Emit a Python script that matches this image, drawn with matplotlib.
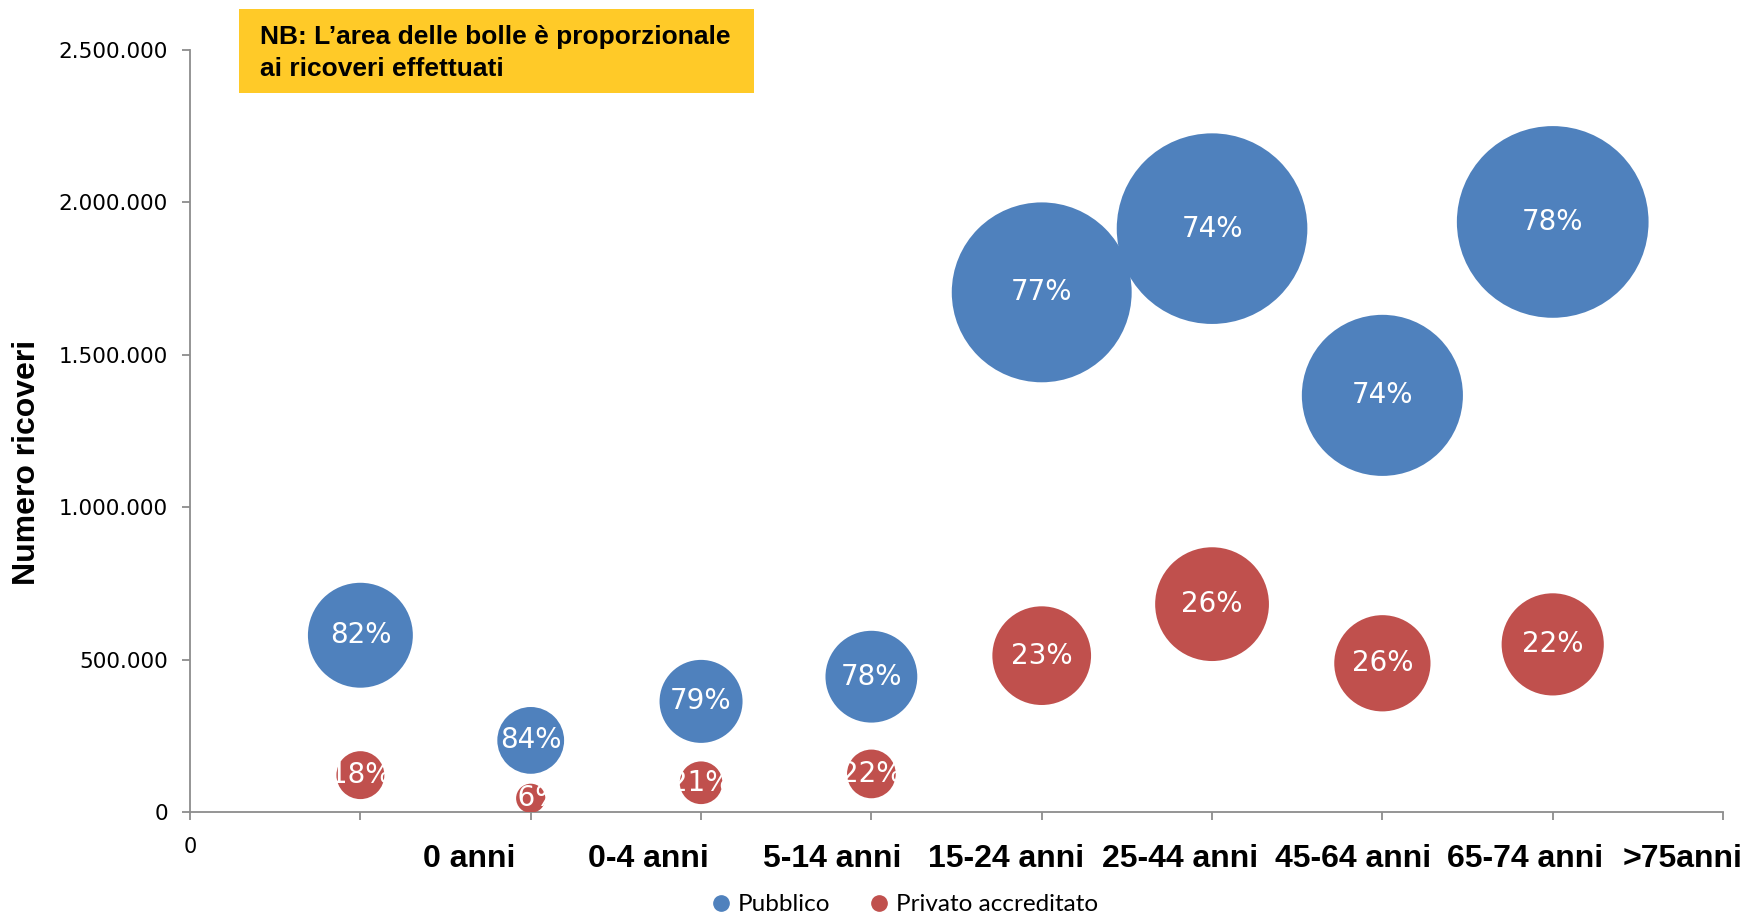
import numpy as np
import matplotlib
matplotlib.use('Agg')
import matplotlib.pyplot as plt
from matplotlib.patches import Circle, Rectangle
from matplotlib.lines import Line2D
from matplotlib.ticker import FuncFormatter
from matplotlib.transforms import Affine2D, ScaledTranslation

# dati
categorie = ['0 anni', '0-4 anni', '5-14 anni', '15-24 anni',
             '25-44 anni', '45-64 anni', '65-74 anni', '>75anni']
pubblico = [580000, 235000, 363000, 444000, 1705000, 1914000, 1367000, 1936000]
privato = [121000, 45000, 96000, 125000, 513000, 682000, 488000, 550000]
perc_pubblico = ['82%', '84%', '79%', '78%', '77%', '74%', '74%', '78%']
perc_privato = ['18%', '16%', '21%', '22%', '23%', '26%', '26%', '22%']

# posizione (centro, in unita dell'asse x) delle etichette sotto l'asse
pos_etichette = [1.64, 2.69, 3.77, 4.79, 5.81, 6.83, 7.84, 8.76]

BLU = '#4F81BD'
ROSSO = '#C0504D'
GRIGIO = '#8C8C8C'
ARIAL = ['Liberation Sans', 'DejaVu Sans']

fig = plt.figure(figsize=(17.5, 9.13), dpi=100)
ax = fig.add_axes([0.1086, 0.1106, 0.8760, 0.8346])
ax.set_xlim(0, 9)
ax.set_ylim(0, 2500000)

# raggio delle bolle in punti, area proporzionale ai ricoveri
K = 0.0496

def bolla(x, y, valore, colore, testo):
    r = K * np.sqrt(valore) * fig.dpi / 72
    tr = Affine2D().scale(r) + ScaledTranslation(x, y, ax.transData)
    c = Circle((0, 0), 1, transform=tr, facecolor=colore, edgecolor='none', zorder=3)
    ax.add_patch(c)
    t = ax.text(x, y, testo, ha='center', va='center', color='white',
                fontsize=20, zorder=4)
    t.set_clip_path(c)

xs = np.arange(1, len(categorie) + 1)
for x, v, p in zip(xs, pubblico, perc_pubblico):
    bolla(x, v, v, BLU, p)
for x, v, p in zip(xs, privato, perc_privato):
    bolla(x, v, v, ROSSO, p)

# assi
for s in ['top', 'right']:
    ax.spines[s].set_visible(False)
for s in ['left', 'bottom']:
    ax.spines[s].set_color(GRIGIO)
    ax.spines[s].set_linewidth(1.3)
ax.set_yticks(np.arange(0, 2500001, 500000))
ax.yaxis.set_major_formatter(FuncFormatter(lambda v, p: f'{int(v):,}'.replace(',', '.')))
ax.set_xticks(np.arange(0, 10))
ax.set_xticklabels(['0'] + [''] * 9)
ax.tick_params(axis='both', color=GRIGIO, width=1.3, length=6, direction='out')
ax.tick_params(axis='y', labelsize=15.5, pad=10)
ax.tick_params(axis='x', labelsize=15, pad=12)

# etichette delle classi di eta
for xc, cat in zip(pos_etichette, categorie):
    ax.text(xc, -0.062, cat, transform=ax.get_xaxis_transform(),
            ha='center', va='center', fontsize=23, fontweight='bold',
            family=ARIAL, clip_on=False)

fig.text(0.0155, 0.493, 'Numero ricoveri', rotation=90, ha='center', va='center',
         fontsize=23, fontweight='bold', family=ARIAL)

# riquadro giallo
fig.patches.append(Rectangle((239 / 1750, 1 - 93 / 913), 515 / 1750, 84 / 913,
                             transform=fig.transFigure, facecolor='#FFCA28',
                             edgecolor='none', zorder=0))
fig.text(260 / 1750, 1 - 53 / 913, 'NB: L\u2019area delle bolle è proporzionale\nai ricoveri effettuati',
         ha='left', va='center', fontsize=19, fontweight='bold',
         family=ARIAL, linespacing=1.42)

# legenda
maniglie = [Line2D([], [], marker='o', linestyle='none', color=BLU, markersize=11),
            Line2D([], [], marker='o', linestyle='none', color=ROSSO, markersize=11)]
fig.legend(maniglie, ['Pubblico', 'Privato accreditato'], loc='center',
           bbox_to_anchor=(0.517, 0.009), ncol=2, frameon=False,
           prop={'family': 'Lato', 'size': 17.5}, handlelength=0.8,
           handletextpad=0.3, columnspacing=1.6)

fig.savefig('out.png', dpi=100)
